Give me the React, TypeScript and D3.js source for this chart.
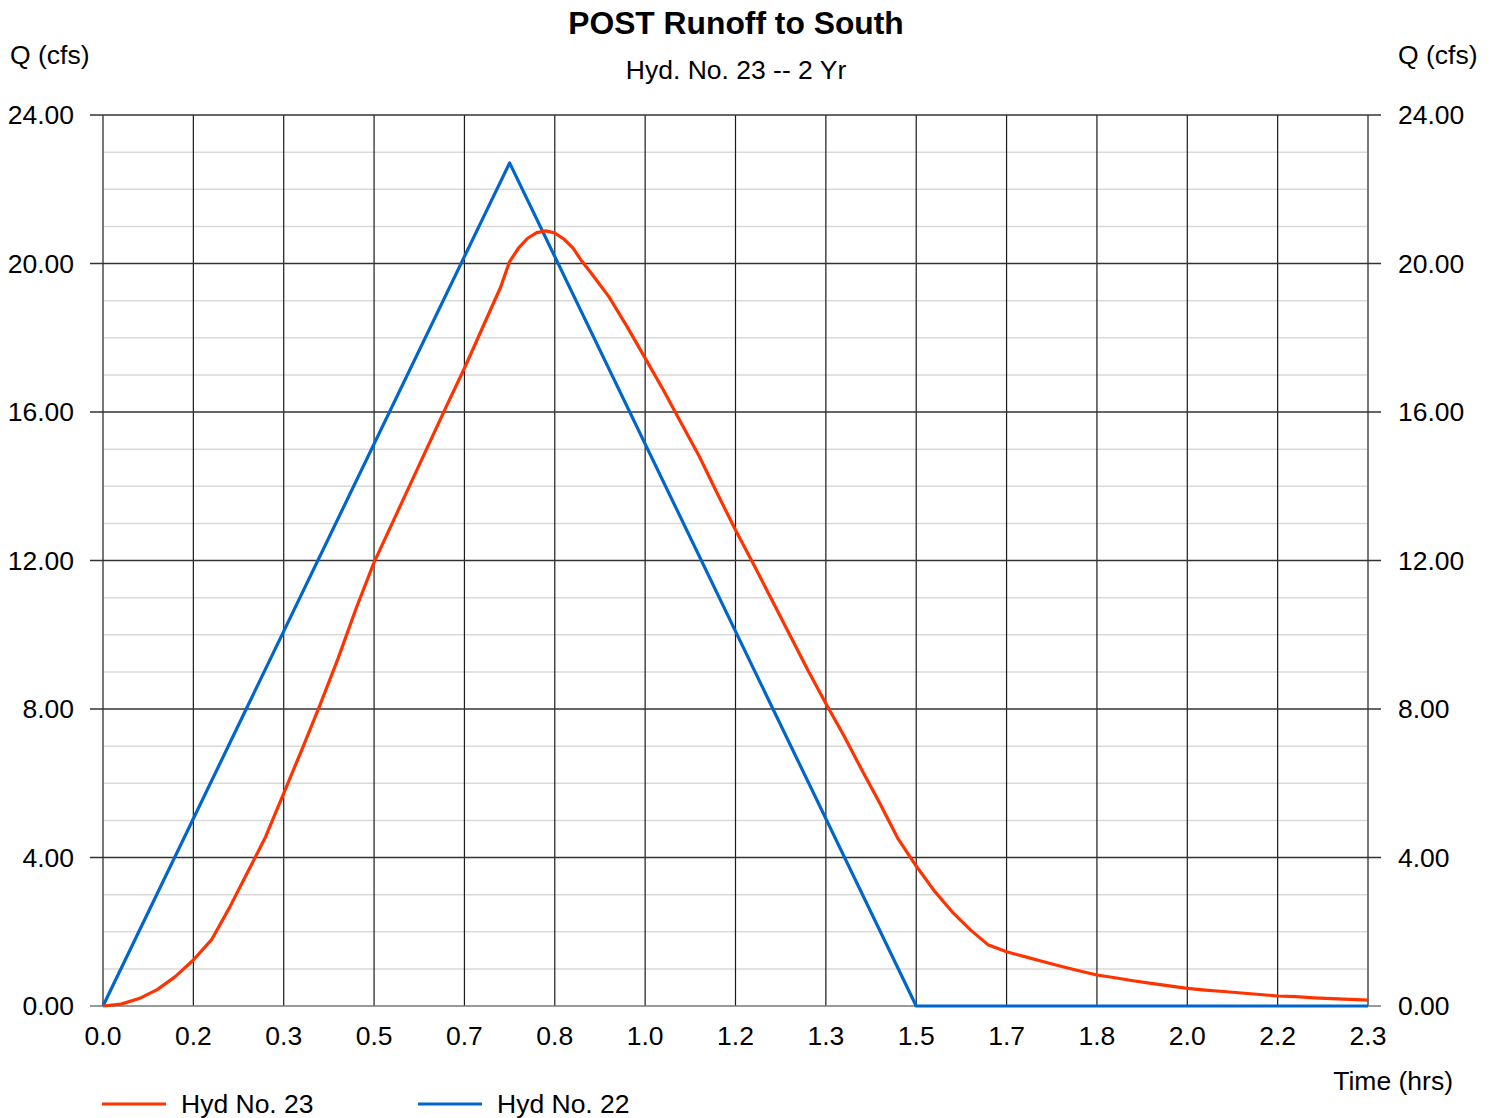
import React from "react";
import * as d3 from "d3";

// ---- Data ----
const xTickMinutes = [0, 10, 20, 30, 40, 50, 60, 70, 80, 90, 100, 110, 120, 130, 140];
const xTickLabels = ["0.0", "0.2", "0.3", "0.5", "0.7", "0.8", "1.0", "1.2", "1.3", "1.5", "1.7", "1.8", "2.0", "2.2", "2.3"];
const yMajorTicks = [0, 4, 8, 12, 16, 20, 24];
const yTickLabels = ["0.00", "4.00", "8.00", "12.00", "16.00", "20.00", "24.00"];
const yMinorTicks = [1, 2, 3, 5, 6, 7, 9, 10, 11, 13, 14, 15, 17, 18, 19, 21, 22, 23];

// Hyd No. 23 (time in minutes, Q in cfs)
const hyd23Time = [
  0, 2, 4, 6, 8, 10, 12, 14, 16, 18, 20, 22, 24, 26, 28, 30, 32, 34, 36, 38, 40, 42, 44, 45,
  46, 47, 48, 49, 50, 51, 52, 53, 54, 56, 58, 60, 62, 64, 66, 68, 70, 72, 74, 76, 78, 80, 82,
  84, 86, 88, 90, 92, 94, 96, 98, 100, 102, 104, 106, 108, 110, 112, 114, 116, 118, 120, 122,
  124, 126, 128, 130, 132, 134, 136, 138, 140,
];
const hyd23Q = [
  0, 0.05, 0.2, 0.44, 0.79, 1.24, 1.78, 2.65, 3.6, 4.56, 5.73, 6.9, 8.1, 9.35, 10.7, 11.95,
  13.0, 14.05, 15.1, 16.15, 17.18, 18.27, 19.36, 20.05,
  20.42, 20.68, 20.83, 20.88, 20.82, 20.66, 20.42, 20.06, 19.75, 19.1, 18.3, 17.45, 16.6, 15.7,
  14.8, 13.8, 12.82, 11.9, 10.95, 10.0, 9.05, 8.15, 7.28, 6.35, 5.45, 4.5, 3.77, 3.1, 2.53,
  2.05, 1.64, 1.46, 1.33, 1.2, 1.07, 0.95, 0.835, 0.76, 0.68, 0.61, 0.54, 0.476, 0.43, 0.39,
  0.35, 0.31, 0.27, 0.25, 0.22, 0.2, 0.18, 0.16,
];

// Hyd No. 22
const hyd22Time = [0, 45, 90, 140];
const hyd22Q = [0, 22.71, 0, 0];

const seriesNames = ["Hyd No. 23", "Hyd No. 22"];
const seriesColors = ["#ff3300", "#0066cc"];

const FONT = "'Liberation Sans', Arial, Helvetica, sans-serif";

export default function App() {
  const W = 1496;
  const H = 1118;
  const left = 103;
  const right = 1368;
  const top = 115;
  const bottom = 1006;
  const fs = 26.5;

  const x = d3.scaleLinear().domain([0, 140 / 60]).range([left, right]);
  const y = d3.scaleLinear().domain([0, 24]).range([bottom, top]);

  const line = d3
    .line<[number, number]>()
    .x((d) => x(d[0] / 60))
    .y((d) => y(d[1]));

  const red: [number, number][] = hyd23Time.map((t, i) => [t, hyd23Q[i]]);
  const blue: [number, number][] = hyd22Time.map((t, i) => [t, hyd22Q[i]]);

  return (
    <svg
      width={W}
      height={H}
      style={{ position: "absolute", left: 0, top: 0, background: "#fff" }}
      fontFamily={FONT}
    >
      <rect x={0} y={0} width={W} height={H} fill="#fff" />
      {/* minor grid */}
      {yMinorTicks.map((v) => (
        <line key={"mn" + v} x1={left} x2={right} y1={y(v)} y2={y(v)} stroke="#d9d9d9" strokeWidth={1.5} />
      ))}
      {/* vertical grid */}
      {xTickMinutes.map((m, i) => (
        <line
          key={"vx" + m}
          x1={x(m / 60)}
          x2={x(m / 60)}
          y1={top}
          y2={bottom}
          stroke={i === 0 || i === xTickMinutes.length - 1 ? "#777" : "#1a1a1a"}
          strokeWidth={i === 0 || i === xTickMinutes.length - 1 ? 2 : 1.2}
        />
      ))}
      {/* major horizontal grid with ticks */}
      {yMajorTicks.map((v) => (
        <line
          key={"mj" + v}
          x1={left - 13}
          x2={right + 13}
          y1={y(v)}
          y2={y(v)}
          stroke={v === 0 ? "#777" : "#333"}
          strokeWidth={1.5}
        />
      ))}
      {/* series */}
      <path d={line(blue) || ""} fill="none" stroke={seriesColors[1]} strokeWidth={3.2} strokeLinejoin="round" />
      <path d={line(red) || ""} fill="none" stroke={seriesColors[0]} strokeWidth={3.2} strokeLinejoin="round" />

      {/* y labels */}
      {yMajorTicks.map((v, i) => (
        <g key={"yl" + v}>
          <text x={74} y={y(v)} dy="0.35em" textAnchor="end" fontSize={fs} fill="#000">
            {yTickLabels[i]}
          </text>
          <text x={1398} y={y(v)} dy="0.35em" textAnchor="start" fontSize={fs} fill="#000">
            {yTickLabels[i]}
          </text>
        </g>
      ))}
      {/* x labels */}
      {xTickMinutes.map((m, i) => (
        <text key={"xl" + m} x={x(m / 60)} y={1036} dy="0.35em" textAnchor="middle" fontSize={fs} fill="#000">
          {xTickLabels[i]}
        </text>
      ))}

      {/* titles */}
      <text x={736} y={23} dy="0.35em" textAnchor="middle" fontSize={31.8} fontWeight="bold" fill="#000">
        POST Runoff to South
      </text>
      <text x={736} y={70} dy="0.35em" textAnchor="middle" fontSize={fs} fill="#000">
        Hyd. No. 23 -- 2 Yr
      </text>
      <text x={10} y={55} dy="0.35em" textAnchor="start" fontSize={fs} fill="#000">
        Q (cfs)
      </text>
      <text x={1398} y={55} dy="0.35em" textAnchor="start" fontSize={fs} fill="#000">
        Q (cfs)
      </text>
      <text x={1453} y={1081} dy="0.35em" textAnchor="end" fontSize={fs} fill="#000">
        Time (hrs)
      </text>

      {/* legend */}
      {seriesNames.map((name, i) => (
        <g key={name} transform={`translate(${102 + i * 316},1104)`}>
          <line x1={0} x2={64} y1={0} y2={0} stroke={seriesColors[i]} strokeWidth={3.2} />
          <text x={79} y={0} dy="0.35em" fontSize={fs} fill="#000">
            {name}
          </text>
        </g>
      ))}
    </svg>
  );
}
